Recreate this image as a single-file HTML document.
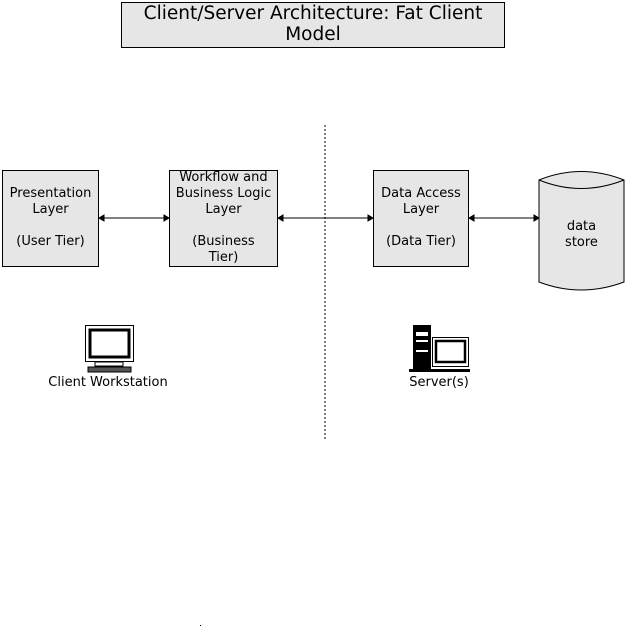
<!DOCTYPE html>
<html><head><style>
body{margin:0;background:#fff;width:627px;height:627px;position:relative;overflow:hidden;font-family:"DejaVu Sans","Liberation Sans",sans-serif;}
.t{position:absolute;text-align:center;font-size:13px;line-height:16px;color:#000;}
.b{position:absolute;background:#e6e6e6;border:1px solid #000;box-sizing:border-box;}
</style></head><body>
<div class="b" style="left:121px;top:2px;width:384px;height:46px;"></div>
<div class="t" style="left:121px;top:3px;width:384px;font-size:18.5px;line-height:21px;">Client/Server Architecture: Fat Client<br>Model</div>
<div class="b" style="left:2px;top:170px;width:97px;height:97px;"></div>
<div class="t" style="left:2px;top:186px;width:97px;">Presentation<br>Layer<br><br>(User Tier)</div>
<div class="b" style="left:169px;top:170px;width:109px;height:97px;"></div>
<div class="t" style="left:169px;top:170px;width:109px;">Workflow and<br>Business Logic<br>Layer<br><br>(Business<br>Tier)</div>
<div class="b" style="left:373px;top:170px;width:96px;height:97px;"></div>
<div class="t" style="left:373px;top:186px;width:96px;">Data Access<br>Layer<br><br>(Data Tier)</div>
<svg width="627" height="627" style="position:absolute;left:0;top:0">
<line x1="325" y1="125" x2="325" y2="440" stroke="#000" stroke-dasharray="2,2"/>
<g stroke="#000" fill="#000">
<line x1="99" y1="218" x2="169" y2="218"/><line x1="278" y1="218" x2="373" y2="218"/><line x1="469" y1="218" x2="539" y2="218"/>
<path d="M99 218l5-3v6z M169 218l-5-3v6z M278 218l5-3v6z M373 218l-5-3v6z M469 218l5-3v6z M539 218l-5-3v6z"/>
</g>
<path d="M539 180 Q581 163 624 180 V282 Q581 298 539 282 Z" fill="#e6e6e6" stroke="#000"/>
<path d="M539 180 Q581 197 624 180" fill="none" stroke="#000"/>
<rect x="85.5" y="325.5" width="48" height="36" fill="#fff" stroke="#000"/>
<rect x="90" y="330" width="39" height="27" fill="none" stroke="#000" stroke-width="3"/>
<rect x="95" y="362" width="28" height="4" fill="#fff" stroke="#000"/>
<rect x="88" y="367" width="43" height="5" fill="#555" stroke="#000"/>
<rect x="413" y="325" width="18" height="46" fill="#000"/>
<rect x="416" y="332" width="12" height="4" fill="#fff"/>
<rect x="416" y="340" width="12" height="2" fill="#fff"/>
<rect x="416" y="350" width="12" height="2" fill="#fff"/>
<rect x="432.5" y="337.5" width="36" height="29" fill="#fff" stroke="#000"/>
<rect x="436" y="341" width="29" height="21" fill="none" stroke="#000" stroke-width="2.5"/>
<rect x="409" y="369" width="61" height="3" fill="#000"/>
<rect x="200" y="625" width="1" height="1" fill="#000"/>
</svg>
<div class="t" style="left:38px;top:375px;width:140px;">Client Workstation</div>
<div class="t" style="left:394px;top:375px;width:90px;">Server(s)</div>
<div class="t" style="left:539px;top:219px;width:85px;">data<br>store</div>
</body></html>
